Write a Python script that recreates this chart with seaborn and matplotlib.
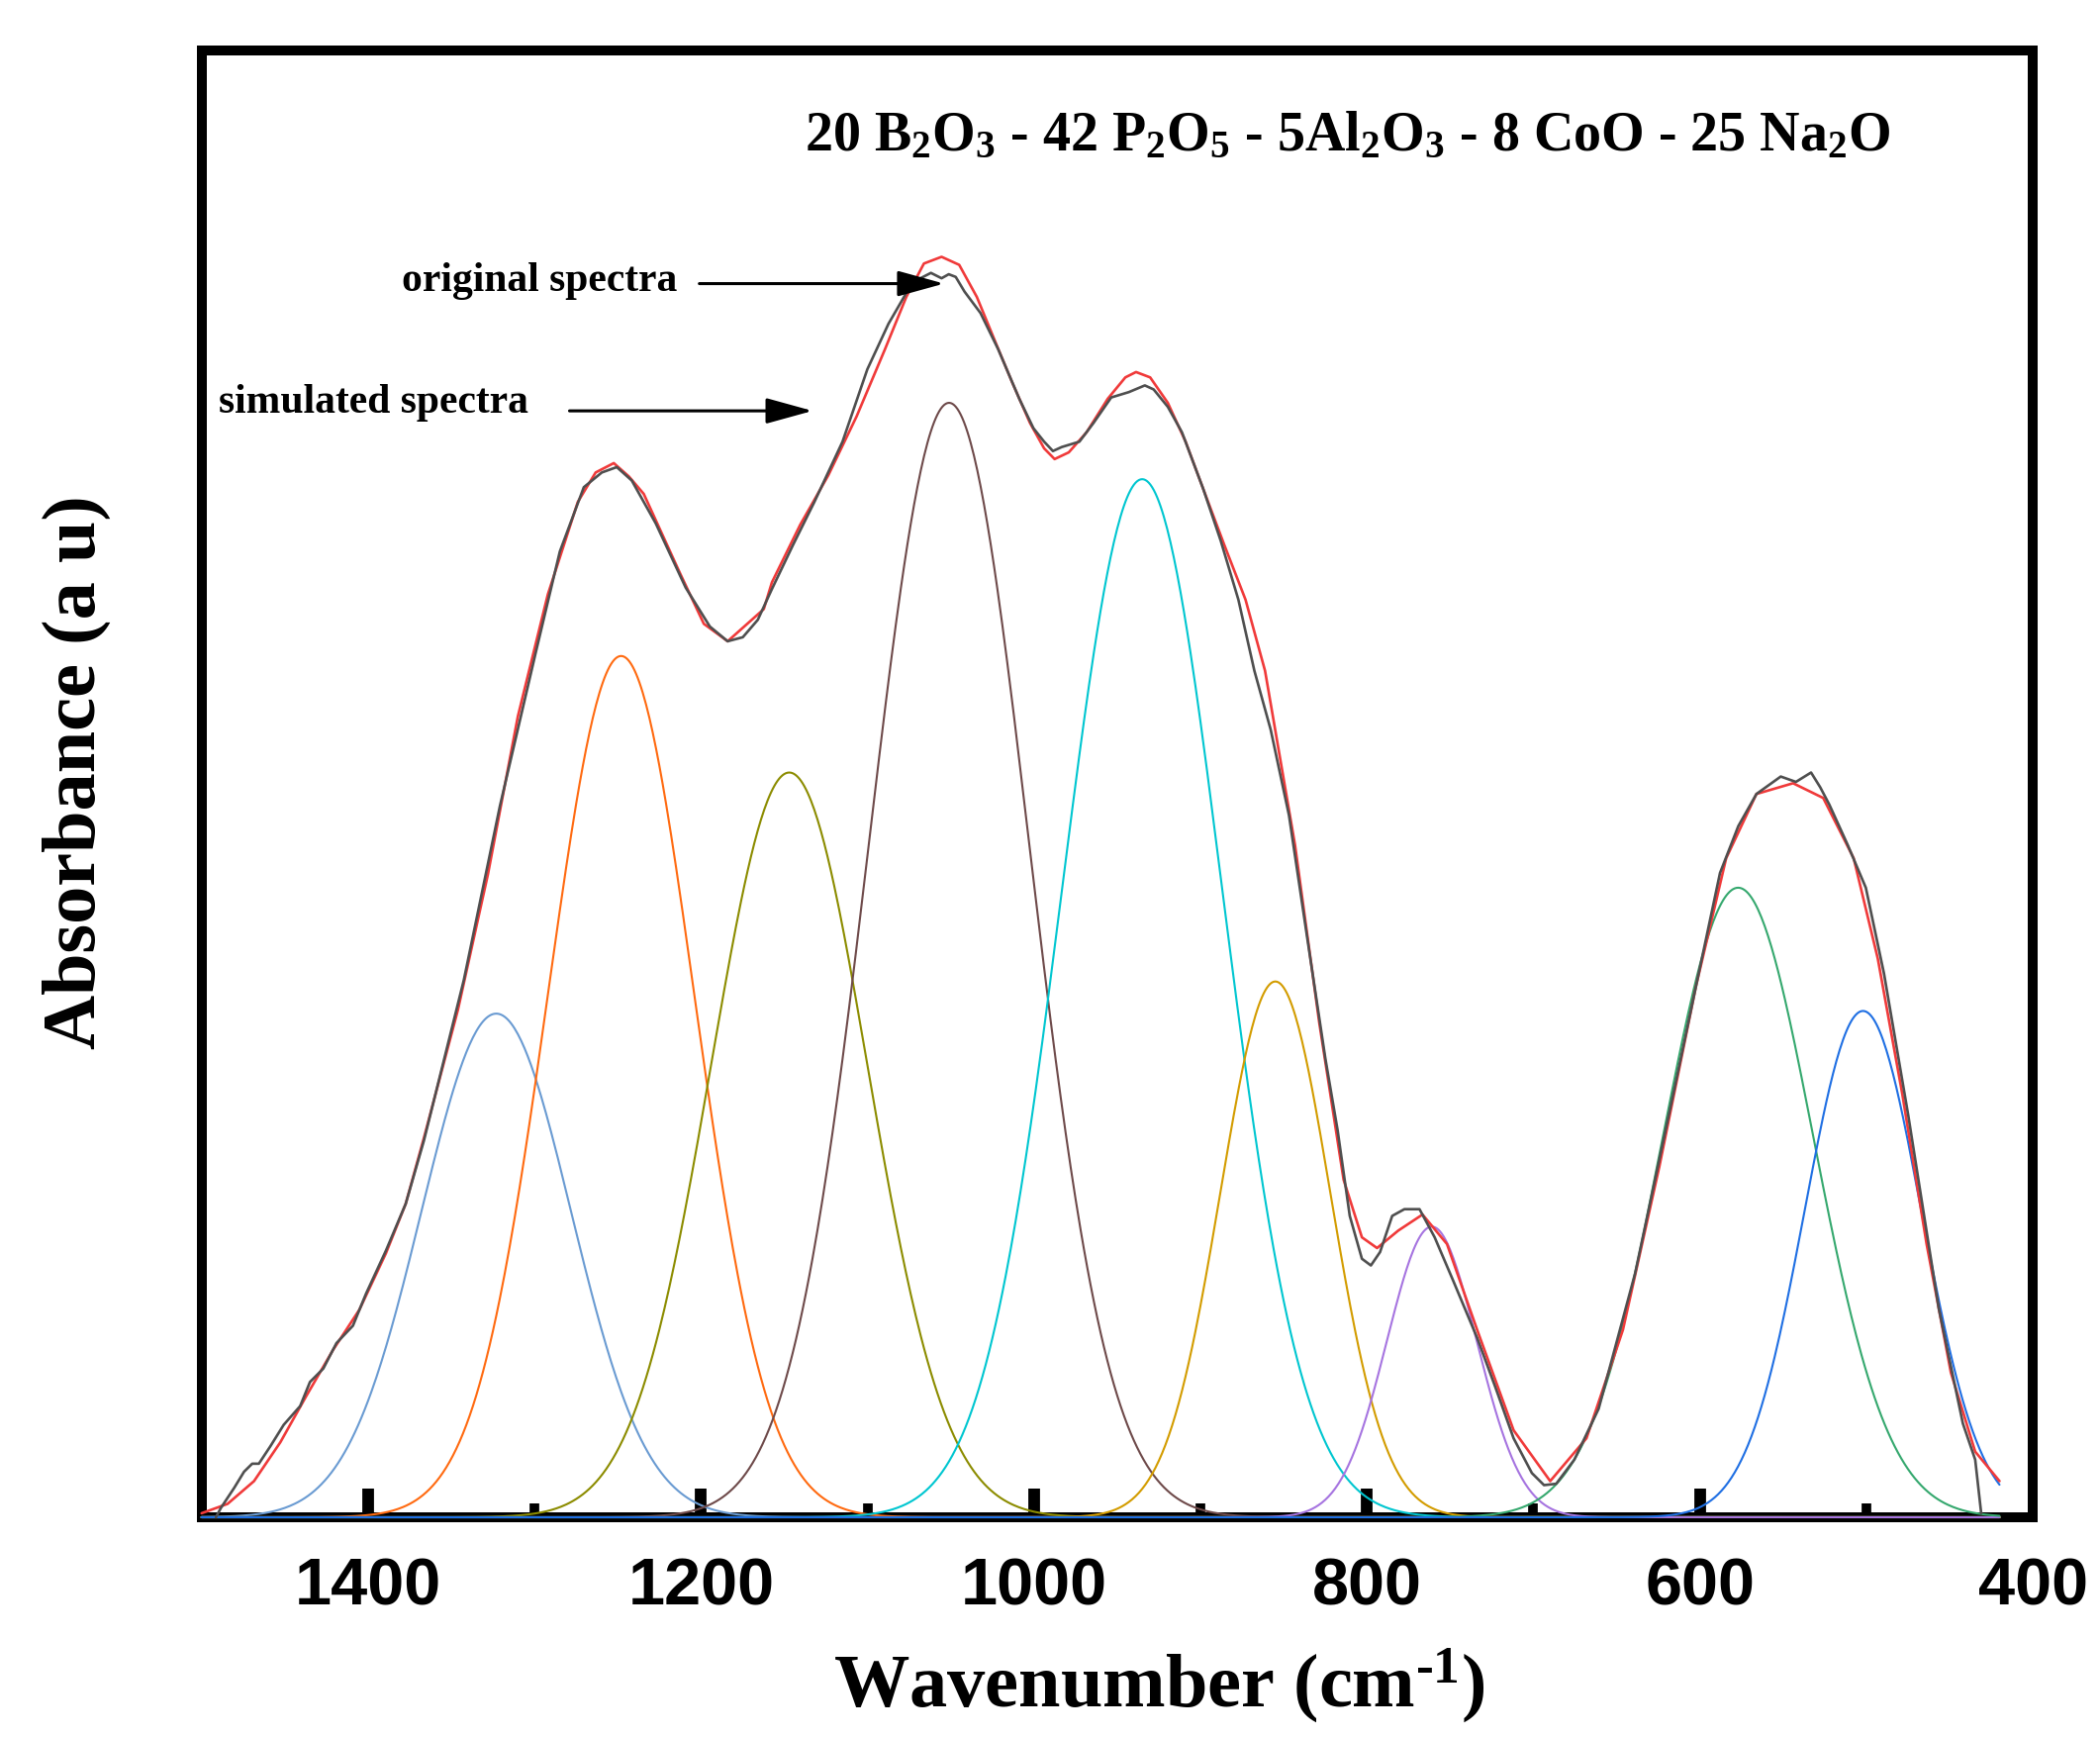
import numpy as np
import seaborn as sns
import matplotlib
matplotlib.use("Agg")
from matplotlib import pyplot as plt

# Deconvoluted bands (centre cm-1, peak absorbance a.u., gaussian width cm-1)
band_centers = [1323, 1248, 1147, 1051, 935, 855, 761, 577, 502]
band_heights = [0.376, 0.643, 0.556, 0.832, 0.775, 0.400, 0.217, 0.470, 0.378]
band_widths = [45, 44, 47, 48, 48, 33, 27, 45, 35]

# Simulated spectrum (red)
sim_wavenumber = [1500, 1484.4, 1468.5, 1452.7, 1436.9, 1421, 1405.2, 1389.3, 1377.4,
                  1366.5, 1346, 1328, 1310, 1292, 1274, 1263.3, 1252.4, 1243.3, 1234.4,
                  1212.7, 1198.3, 1184, 1162.3, 1157.4, 1140.4, 1123.5, 1106.5, 1089.5,
                  1076.7, 1066.1, 1055.5, 1044.9, 1034.3, 1023.7, 1013, 1002.4, 993.9,
                  987.6, 979.1, 968.4, 955.7, 945.1, 938.7, 930.2, 919.6, 908.9, 898.4,
                  885.7, 872.9, 861.2, 843.2, 828.6, 814, 803, 793.9, 781.2, 766.6, 751.9,
                  733.8, 711.9, 689.9, 668.1, 646.2, 624.3, 602.4, 584.2, 566, 544, 525.9,
                  507.6, 493.1, 478.4, 463.8, 449.2, 434.6, 420]
sim_absorbance = [0.003, 0.010, 0.027, 0.056, 0.091, 0.125, 0.155, 0.197, 0.234,
                  0.283, 0.379, 0.480, 0.598, 0.689, 0.758, 0.780, 0.787, 0.777, 0.764,
                  0.705, 0.667, 0.654, 0.678, 0.698, 0.741, 0.778, 0.822, 0.872,
                  0.911, 0.936, 0.941, 0.935, 0.911, 0.879, 0.847, 0.817, 0.798,
                  0.790, 0.795, 0.810, 0.835, 0.851, 0.855, 0.851, 0.832, 0.803, 0.768,
                  0.726, 0.685, 0.632, 0.502, 0.369, 0.252, 0.209, 0.201, 0.214, 0.226, 0.204,
                  0.140, 0.065, 0.027, 0.059, 0.140, 0.262, 0.396, 0.492, 0.540, 0.548, 0.537,
                  0.492, 0.417, 0.316, 0.204, 0.108, 0.049, 0.027]

orig_wavenumber = [1491.4, 1488.4, 1480.4, 1474.5, 1469.6, 1465.6, 1458.7, 1450.7, 1440.8,
                   1434.9, 1426.9, 1419, 1409.1, 1401.2, 1389.3, 1377.4, 1366.5, 1342.5,
                   1320.8, 1299.2, 1284.8, 1270.4, 1259.6, 1250.6, 1241.6, 1227.2, 1209.2,
                   1194.7, 1184, 1174.9, 1165.9, 1157.4, 1144.7, 1131.9, 1115, 1100.1,
                   1087.4, 1076.7, 1068.2, 1061.9, 1055.5, 1051.2, 1047, 1041.7, 1032.1,
                   1021.5, 1008.8, 1000.3, 993.9, 988.6, 983.3, 972.7, 964.2, 953.6, 943,
                   933.4, 928.1, 919.6, 911.1, 898.4, 887.8, 877.2, 867.6, 857.8, 846.8,
                   835.9, 824.9, 817.6, 810.3, 803, 797.6, 792.1, 784.8, 777.5, 768.4,
                   759.3, 748.3, 733.8, 722.8, 711.9, 700.9, 693.6, 686.3, 675.4, 660.8,
                   638.9, 617, 602.4, 587.9, 576.9, 566, 551.4, 542.3, 533.2, 527.7, 522.2,
                   511.2, 500.3, 489.4, 474.8, 456.5, 442, 434.6, 431]
orig_absorbance = [0.000, 0.007, 0.022, 0.034, 0.040, 0.040, 0.053, 0.069, 0.083,
                   0.101, 0.111, 0.130, 0.143, 0.167, 0.199, 0.234, 0.281, 0.401,
                   0.531, 0.646, 0.721, 0.769, 0.780, 0.784, 0.774, 0.742, 0.694,
                   0.665, 0.654, 0.657, 0.670, 0.693, 0.726, 0.758, 0.803, 0.857,
                   0.891, 0.914, 0.925, 0.929, 0.925, 0.928, 0.926, 0.915, 0.899,
                   0.872, 0.835, 0.813, 0.803, 0.796, 0.799, 0.803, 0.817, 0.836, 0.840,
                   0.845, 0.842, 0.829, 0.810, 0.768, 0.729, 0.685, 0.632, 0.588, 0.524,
                   0.433, 0.342, 0.289, 0.225, 0.193, 0.188, 0.198, 0.225, 0.230, 0.230,
                   0.209, 0.177, 0.134, 0.097, 0.059, 0.033, 0.024, 0.025, 0.043, 0.081,
                   0.182, 0.310, 0.396, 0.481, 0.516, 0.540, 0.553, 0.549, 0.556, 0.545, 0.532,
                   0.502, 0.470, 0.406, 0.300, 0.156, 0.070, 0.043, 0.003]

major_ticks = [1400, 1200, 1000, 800, 600, 400]
tick_labels = ["1400", "1200", "1000", "800", "600", "400"]
minor_ticks = [1300, 1100, 900, 700, 500]

band_colors = ["#6A9BD2", "#FF6A10", "#8C8C00", "#6E4A4A", "#00C6D0",
               "#D39C00", "#A674E0", "#35A86E", "#1F6FE3"]

sns.set_theme(style="white")
plt.rcParams["font.family"] = ["Liberation Serif", "DejaVu Serif"]
plt.rcParams["font.weight"] = "bold"
plt.rcParams["text.color"] = "black"
plt.rcParams["axes.labelcolor"] = "black"
plt.rcParams["xtick.color"] = "black"
plt.rcParams["mathtext.fontset"] = "custom"
plt.rcParams["mathtext.rm"] = "Liberation Serif:bold"
plt.rcParams["mathtext.it"] = "Liberation Serif:italic:bold"
plt.rcParams["mathtext.bf"] = "Liberation Serif:bold"

fig = plt.figure(figsize=(21.22, 17.55), dpi=100)
ax = fig.add_axes([0.0960, 0.1265, 0.8720, 0.8444])

# Gaussian components
grid = np.linspace(1500, 420, 1081)
for c, h, w, col in zip(band_centers, band_heights, band_widths, band_colors):
    profile = h * np.exp(-(grid - c) ** 2 / (2 * w ** 2))
    sns.lineplot(x=grid, y=profile, ax=ax, color=col, lw=1.5, estimator=None)

sns.lineplot(x=sim_wavenumber, y=sim_absorbance, ax=ax, color="#F03A3A", lw=1.9,
             estimator=None)
sns.lineplot(x=orig_wavenumber, y=orig_absorbance, ax=ax, color="#4F4F4F", lw=1.9,
             estimator=None)

for line in ax.lines:
    line.set_clip_on(False)
    line.set_zorder(3)

ax.set_xlim(1500, 400)
ax.set_ylim(0, 1.095)
ax.set_yticks([])

ax.set_xticks(major_ticks, labels=tick_labels, fontfamily="Liberation Sans",
              fontweight="bold", fontsize=48, color="black")
ax.set_xticks(minor_ticks, minor=True)
ax.tick_params(axis="x", which="major", direction="in", length=21, width=8.5,
               color="black", pad=29, bottom=True)
ax.tick_params(axis="x", which="minor", direction="in", length=10, width=7,
               color="black", bottom=True)
# the 400 tick sits on the right frame
ax.xaxis.get_major_ticks()[-1].tick1line.set_visible(False)

for side in ["left", "right", "top", "bottom"]:
    ax.spines[side].set_color("black")
    ax.spines[side].set_linewidth(7.2)
    ax.spines[side].set_visible(True)

ax.set_xlabel(r"Wavenumber (cm$^{\text{-1}}$)", fontsize=55, fontweight="bold",
              va="center", color="black")
ax.xaxis.set_label_coords(0.523, -0.115)
ax.set_ylabel("Absorbance (a u)", fontsize=55, fontweight="bold", va="center",
              color="black")
ax.yaxis.set_label_coords(-0.0685, 0.508)

ax.text(1138, 1.020,
        "20 B$_2$O$_3$ - 42 P$_2$O$_5$ - 5Al$_2$O$_3$ - 8 CoO - 25 Na$_2$O",
        fontsize=40.3, fontweight="bold", ha="left", va="baseline", color="black")

# Arrow labels
arrow_style = dict(arrowstyle="-|>,head_length=1.45,head_width=0.4", color="black",
                   lw=2.2, mutation_scale=20, shrinkA=0, shrinkB=0)
ax.text(1379.8, 0.923, "original spectra", fontsize=30, fontweight="bold",
        ha="left", va="center", color="black")
ax.annotate("", xy=(1054, 0.921), xytext=(1201, 0.921), arrowprops=arrow_style, zorder=5)
ax.text(1489.7, 0.832, "simulated spectra", fontsize=30, fontweight="bold",
        ha="left", va="center", color="black")
ax.annotate("", xy=(1133, 0.826), xytext=(1279, 0.826), arrowprops=arrow_style, zorder=5)

fig.savefig("out.png", dpi=100)
plt.close(fig)
